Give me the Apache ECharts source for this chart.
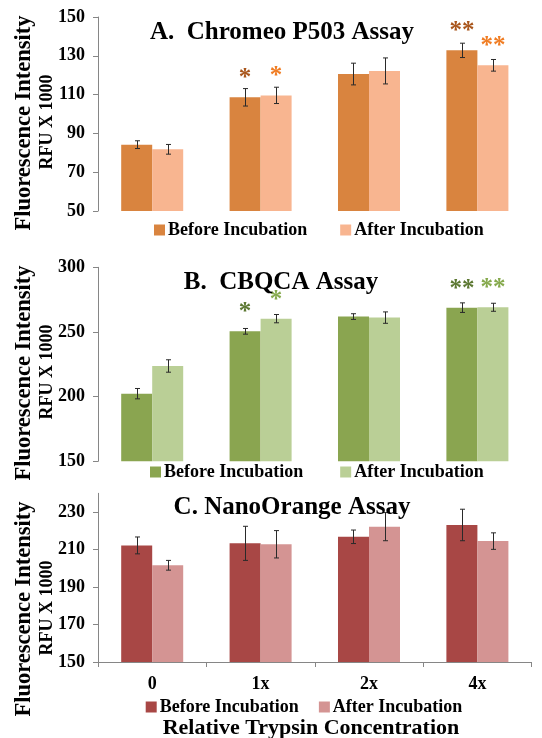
<!DOCTYPE html>
<html>
<head>
<meta charset="utf-8">
<script src="https://cdn.jsdelivr.net/npm/echarts@6/dist/echarts.min.js"></script>
<style>html,body{margin:0;padding:0;background:#fff;}#c{width:542px;height:738px;}</style>
</head>
<body>
<div id="c"></div>
<script>
const categories = ['0', '1x', '2x', '4x'];
const legendNames = ['Before Incubation', 'After Incubation'];

const chromeoBefore = [84.2, 108.6, 120.6, 132.8];
const chromeoBeforeErr = [2.0, 4.5, 5.6, 3.7];
const chromeoAfter = [81.8, 109.6, 122.2, 125.1];
const chromeoAfterErr = [2.5, 4.2, 6.7, 3.0];
const chromeoBeforeSig = ['', '*', '', '**'];
const chromeoAfterSig = ['', '*', '', '**'];

const cbqcaBefore = [202.3, 250.5, 261.9, 268.8];
const cbqcaBeforeErr = [4.0, 2.2, 2.2, 3.7];
const cbqcaAfter = [223.7, 260.3, 261.1, 269.1];
const cbqcaAfterErr = [4.8, 3.2, 4.4, 3.1];
const cbqcaBeforeSig = ['', '*', '', '**'];
const cbqcaAfterSig = ['', '*', '', '**'];

const nanoBefore = [212.2, 213.3, 216.8, 223.1];
const nanoBeforeErr = [4.5, 9.1, 3.6, 8.4];
const nanoAfter = [201.6, 212.8, 222.2, 214.5];
const nanoAfterErr = [2.6, 7.3, 7.5, 4.4];
const nanoBeforeSig = ['', '', '', ''];
const nanoAfterSig = ['', '', '', ''];

const chromeoTicks = [50, 70, 90, 110, 130, 150];
const cbqcaTicks = [150, 200, 250, 300];
const nanoTicks = [150, 170, 190, 210, 230];

const FONT = "'Liberation Serif', 'Times New Roman', serif";
const AXIS_COLOR = '#868686';

const panels = [
  { key: 'A', title: 'A.  Chromeo P503 Assay', titleX: 282, titleY: 33,
    before: chromeoBefore, beforeErr: chromeoBeforeErr, after: chromeoAfter, afterErr: chromeoAfterErr,
    beforeSig: chromeoBeforeSig, afterSig: chromeoAfterSig,
    ticks: chromeoTicks, min: 50, max: 150,
    colors: ['#D9843F', '#F8B590'], sigColors: ['#A9561C', '#F07C22'],
    grid: { top: 17, height: 194 }, legend: { left: 149, top: 216, gap: 33 },
    yTitleY: 123, showX: false },
  { key: 'B', title: 'B.  CBQCA Assay', titleX: 281, titleY: 283,
    before: cbqcaBefore, beforeErr: cbqcaBeforeErr, after: cbqcaAfter, afterErr: cbqcaAfterErr,
    beforeSig: cbqcaBeforeSig, afterSig: cbqcaAfterSig,
    ticks: cbqcaTicks, min: 150, max: 300,
    colors: ['#8AA550', '#BACF96'], sigColors: ['#5C7832', '#85A94C'],
    grid: { top: 267.3, height: 194 }, legend: { left: 145, top: 458, gap: 37 },
    yTitleY: 373, showX: false },
  { key: 'C', title: 'C. NanoOrange Assay', titleX: 292, titleY: 508,
    before: nanoBefore, beforeErr: nanoBeforeErr, after: nanoAfter, afterErr: nanoAfterErr,
    beforeSig: nanoBeforeSig, afterSig: nanoAfterSig,
    ticks: nanoTicks, min: 150, max: 240,
    colors: ['#A84745', '#D49493'], sigColors: ['#A84745', '#D49493'],
    grid: { top: 493.3, height: 168.7 }, legend: { left: 140.7, top: 693, gap: 20 },
    yTitleY: 609, showX: true }
];

const HALF = 0.143; // half bar width as fraction of band

function errSeries(gi, vals, errs, sign) {
  return {
    type: 'custom', xAxisIndex: gi, yAxisIndex: gi, z: 5, silent: true,
    encode: { x: 0, y: 1 },
    data: vals.map((v, i) => [i, v, errs[i]]),
    renderItem: function (params, api) {
      const i = api.value(0), v = api.value(1), e = api.value(2);
      const band = api.size([1, 0])[0];
      const x = Math.round(api.coord([i, v])[0] + sign * band * HALF) + 0.5;
      const yt = api.coord([i, v + e])[1];
      const yb = api.coord([i, v - e])[1];
      const c = 2.5;
      const st = { stroke: '#2a2a2a', lineWidth: 1 };
      return { type: 'group', children: [
        { type: 'line', shape: { x1: x, y1: yt, x2: x, y2: yb }, style: st },
        { type: 'line', shape: { x1: x - c, y1: yt, x2: x + c, y2: yt }, style: st },
        { type: 'line', shape: { x1: x - c, y1: yb, x2: x + c, y2: yb }, style: st }
      ] };
    }
  };
}

function barSeries(gi, name, vals, sig, color, sigColor) {
  return {
    type: 'bar', name: name, xAxisIndex: gi, yAxisIndex: gi,
    barWidth: '28.6%', barGap: '0%',
    itemStyle: { color: color },
    label: {
      show: true, position: 'top', distance: 6,
      formatter: p => sig[p.dataIndex],
      fontSize: 25, fontWeight: 'bold', fontFamily: FONT, color: sigColor
    },
    data: vals
  };
}

const option = {
  animation: false,
  grid: [], xAxis: [], yAxis: [], legend: [], series: [], graphic: []
};

panels.forEach((p, gi) => {
  option.grid.push({ left: 98, right: 10.4, top: p.grid.top, height: p.grid.height });
  option.xAxis.push({
    type: 'category', gridIndex: gi, data: categories,
    axisLine: { show: p.showX, lineStyle: { color: AXIS_COLOR, width: 1 } },
    axisTick: { show: p.showX, length: 5, lineStyle: { color: AXIS_COLOR } },
    axisLabel: { show: p.showX, fontSize: 18, fontWeight: 'bold', fontFamily: FONT, color: '#000', margin: 13 },
    splitLine: { show: false }
  });
  option.yAxis.push({
    type: 'value', gridIndex: gi, min: p.min, max: p.max,
    axisLine: { show: true, lineStyle: { color: AXIS_COLOR, width: 1 } },
    axisTick: { show: true, length: 5, lineStyle: { color: AXIS_COLOR }, customValues: p.ticks },
    axisLabel: { fontSize: 18, fontWeight: 'bold', fontFamily: FONT, color: '#000', margin: 13, customValues: p.ticks },
    splitLine: { show: false }
  });
  const nB = p.key + '|' + legendNames[0];
  const nA = p.key + '|' + legendNames[1];
  option.series.push(barSeries(gi, nB, p.before, p.beforeSig, p.colors[0], p.sigColors[0]));
  option.series.push(barSeries(gi, nA, p.after, p.afterSig, p.colors[1], p.sigColors[1]));
  option.series.push(errSeries(gi, p.before, p.beforeErr, -1));
  option.series.push(errSeries(gi, p.after, p.afterErr, 1));
  option.legend.push({
    data: [nB, nA], left: p.legend.left, top: p.legend.top,
    orient: 'horizontal', icon: 'rect', itemWidth: 11, itemHeight: 11, itemGap: p.legend.gap,
    selectedMode: false,
    formatter: n => n.split('|')[1],
    textStyle: { fontSize: 18, fontWeight: 'bold', fontFamily: FONT, color: '#000', padding: [0, 0, 0, -2] }
  });
  option.graphic.push({
    type: 'text', x: p.titleX, y: p.titleY, z: 100,
    style: { text: p.title, fontSize: 25, fontWeight: 'bold', fontFamily: FONT, fill: '#000', align: 'center', verticalAlign: 'middle' }
  });
  option.graphic.push({
    type: 'text', x: 24, y: p.yTitleY, rotation: Math.PI / 2, z: 100,
    style: { text: 'Fluorescence Intensity', fontSize: 22.5, fontWeight: 'bold', fontFamily: FONT, fill: '#000', align: 'center', verticalAlign: 'middle' }
  });
  option.graphic.push({
    type: 'text', x: 47, y: p.yTitleY - 1, rotation: Math.PI / 2, z: 100,
    style: { text: 'RFU X 1000', fontSize: 18, fontWeight: 'bold', fontFamily: FONT, fill: '#000', align: 'center', verticalAlign: 'middle' }
  });
});

option.graphic.push({
  type: 'text', x: 311, y: 728, z: 100,
  style: { text: 'Relative Trypsin Concentration', fontSize: 22, fontWeight: 'bold', fontFamily: FONT, fill: '#000', align: 'center', verticalAlign: 'middle' }
});

const chart = echarts.init(document.getElementById('c'), null, { renderer: 'canvas' });
chart.setOption(option);
</script>
</body>
</html>
